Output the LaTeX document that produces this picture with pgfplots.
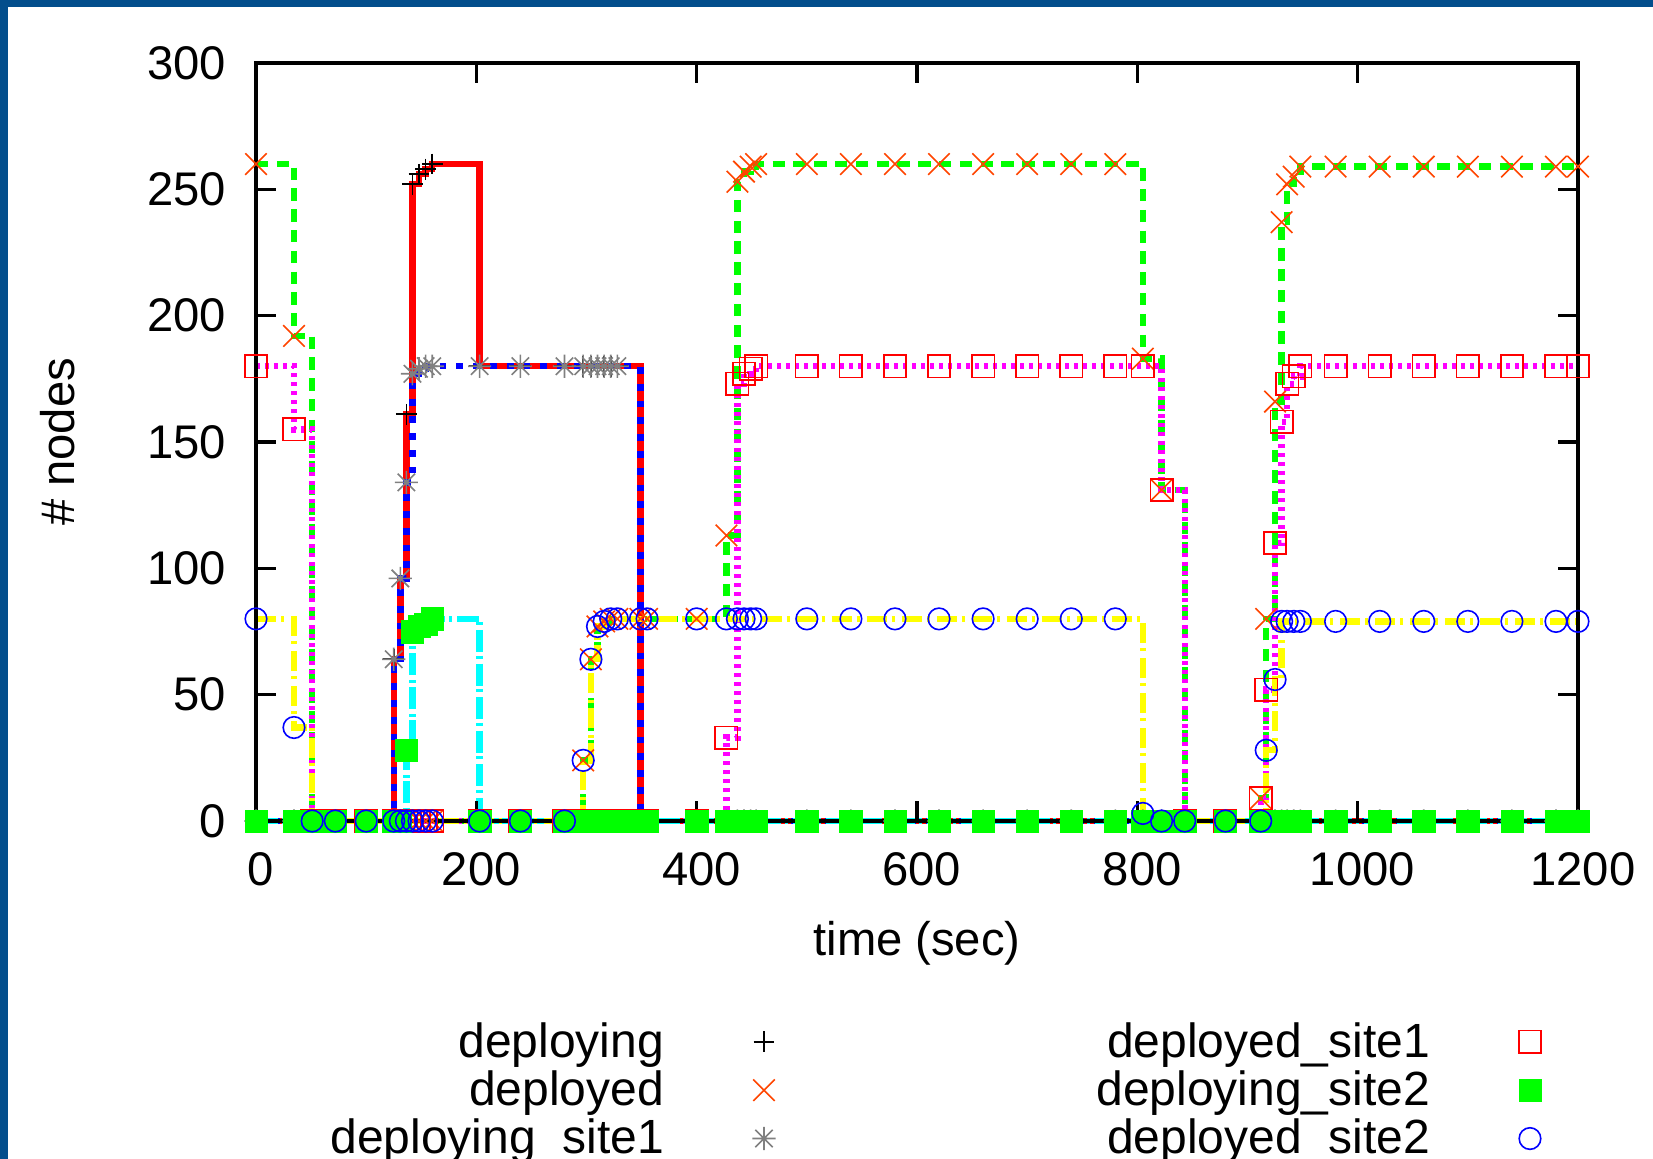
\documentclass[border=0pt]{standalone}
\usepackage{fontspec}
\setmainfont{Liberation Sans}
\usepackage{pgfplots}
\usepackage{pgfplotstable}
\pgfplotsset{compat=1.18}

\definecolor{bordblue}{RGB}{3,78,140}
\definecolor{xorange}{RGB}{255,69,0}
\definecolor{stargray}{RGB}{128,128,128}
\definecolor{gpred}{RGB}{255,0,0}
\definecolor{gpgreen}{RGB}{0,255,0}
\definecolor{gpblue}{RGB}{0,0,255}
\definecolor{gpmagenta}{RGB}{255,0,255}
\definecolor{gpcyan}{RGB}{0,255,255}
\definecolor{gpyellow}{RGB}{255,255,0}

\pgfdeclareplotmark{starx}{%
  \pgfpathmoveto{\pgfqpoint{-\pgfplotmarksize}{0pt}}%
  \pgfpathlineto{\pgfqpoint{\pgfplotmarksize}{0pt}}%
  \pgfpathmoveto{\pgfqpoint{0pt}{-\pgfplotmarksize}}%
  \pgfpathlineto{\pgfqpoint{0pt}{\pgfplotmarksize}}%
  \pgfpathmoveto{\pgfqpoint{-.75\pgfplotmarksize}{-.75\pgfplotmarksize}}%
  \pgfpathlineto{\pgfqpoint{.75\pgfplotmarksize}{.75\pgfplotmarksize}}%
  \pgfpathmoveto{\pgfqpoint{-.75\pgfplotmarksize}{.75\pgfplotmarksize}}%
  \pgfpathlineto{\pgfqpoint{.75\pgfplotmarksize}{-.75\pgfplotmarksize}}%
  \pgfusepathqstroke}

\newcommand{\legtext}[1]{\makebox[84pt][r]{\rule[-3.3pt]{0pt}{12.1pt}#1}}

% t, deploying, deployed, deploying_site1, deployed_site1, deploying_site2, deployed_site2
\pgfplotstableread{
t      dep  dpd  depa dpda depb dpdb
0      0    260  0    180  0    80
34.5   0    192  0    155  0    37
51     0    0    0    0    0    0
72     0    0    0    0    0    0
100    0    0    0    0    0    0
125    64   0    64   0    0    0
131    96   0    96   0    0    0
136.5  161  0    134  0    28   0
142    252  0    177  0    75   0
148    256  0    179  0    77   0
154    258  0    180  0    78   0
160    260  0    180  0    80   0
203    180  0    180  0    0    0
240    180  0    180  0    0    0
280    180  0    180  0    0    0
297    180  24   180  0    0    24
304    180  64   180  0    0    64
310    180  77   180  0    0    77
316    180  79   180  0    0    79
322    180  80   180  0    0    80
328    180  80   180  0    0    80
349    0    80   0    0    0    80
355    0    80   0    0    0    80
400    0    80   0    0    0    80
427    0    113  0    33   0    80
437    0    253  0    173  0    80
443    0    257  0    177  0    80
449    0    259  0    179  0    80
454    0    260  0    180  0    80
500    0    260  0    180  0    80
540    0    260  0    180  0    80
580    0    260  0    180  0    80
620    0    260  0    180  0    80
660    0    260  0    180  0    80
700    0    260  0    180  0    80
740    0    260  0    180  0    80
780    0    260  0    180  0    80
805    0    183  0    180  0    3
822    0    131  0    131  0    0
843    0    0    0    0    0    0
880    0    0    0    0    0    0
912    0    9    0    9    0    0
917    0    80   0    52   0    28
925    0    166  0    110  0    56
931    0    237  0    158  0    79
936    0    252  0    173  0    79
942    0    255  0    176  0    79
948    0    259  0    180  0    79
980    0    259  0    180  0    79
1020   0    259  0    180  0    79
1060   0    259  0    180  0    79
1100   0    259  0    180  0    79
1140   0    259  0    180  0    79
1180   0    259  0    180  0    79
1200   0    259  0    180  0    79
}\datatable

\begin{document}
\begin{tikzpicture}
\path[use as bounding box] (0pt,0pt) rectangle (413.25pt,289.75pt);
\fill[white] (0pt,0pt) rectangle (413.25pt,289.75pt);
\fill[bordblue] (0pt,0pt) rectangle (2pt,289.75pt);
\fill[bordblue] (0pt,288pt) rectangle (413.25pt,289.75pt);
\begin{axis}[
  at={(64pt,84.5pt)}, anchor=south west,
  scale only axis, width=330.5pt, height=189.5pt,
  xmin=0, xmax=1200, ymin=0, ymax=300,
  xtick={0,200,400,600,800,1000,1200},
  ytick={0,50,100,150,200,250,300},
  minor tick num=0,
  tick align=inside, major tick length=5pt,
  axis line style={line width=0.85pt, black},
  tick style={line width=0.85pt, black},
  clip=false, axis on top,
  /pgf/number format/assume math mode=true,
  /pgf/number format/1000 sep={},
  ticklabel style={font=\fontsize{11.8}{14}\selectfont},
  yticklabel style={xshift=-4pt},
  xticklabel style={yshift=-4.4pt, xshift=1.2pt},
  xlabel={time (sec)}, ylabel={\# nodes},
  label style={font=\fontsize{11.8}{14}\selectfont},
  xlabel style={at={(axis description cs:0.5,-0.161)}, anchor=center},
  ylabel style={at={(axis description cs:-0.1498,0.5)}, anchor=center, rotate=0},
  const plot,
  legend image code/.code={\path[draw=none,fill=none] (0pt,0.2pt) -- (10pt,0.2pt); \draw[#1] plot coordinates {(5pt,0.2pt)};},
  legend columns=2,
  legend plot pos=right,
  legend cell align=right,
  legend style={at={(0.05446,-0.2651)}, anchor=north west,
    draw=none, fill=none, inner sep=0pt, outer sep=0pt,
    nodes={inner sep=0pt, outer sep=0pt},
    font=\fontsize{12}{12.1}\selectfont,
    column sep=20pt, row sep=1.8pt,
    /tikz/every even column/.append style={column sep=77.5pt}},
]
% lines
\addplot[forget plot, gpred, line width=1.6pt] table[x=t,y=dep] {\datatable};
\addplot[forget plot, gpgreen, line width=1.6pt, dash pattern=on 3.1pt off 2.1pt] table[x=t,y=dpd] {\datatable};
\addplot[forget plot, gpblue, line width=1.6pt, dash pattern=on 1.7pt off 2.5pt] table[x=t,y=depa] {\datatable};
\addplot[forget plot, gpmagenta, line width=1.6pt, dash pattern=on 1pt off 1.25pt] table[x=t,y=dpda] {\datatable};
\addplot[forget plot, gpcyan, line width=1.6pt, dash pattern=on 5.5pt off 0.9pt on 0.75pt off 1.25pt] table[x=t,y=depb] {\datatable};
\addplot[forget plot, gpyellow, line width=1.6pt, dash pattern=on 5pt off 1.25pt on 0.75pt off 1.75pt] table[x=t,y=dpdb] {\datatable};
% marks
\addplot[forget plot, only marks, mark=+, black, mark size=2.6pt, line width=0.4pt] table[x=t,y=dep] {\datatable};
\addplot[forget plot, only marks, mark=x, xorange, mark size=3.8pt, line width=0.4pt] table[x=t,y=dpd] {\datatable};
\addplot[forget plot, only marks, mark=starx, stargray, mark size=2.9pt, line width=0.4pt] table[x=t,y=depa] {\datatable};
\addplot[forget plot, only marks, mark=square, gpred, mark size=2.8pt, line width=0.4pt] table[x=t,y=dpda] {\datatable};
\addplot[forget plot, only marks, mark=square*, gpgreen, mark size=2.8pt, line width=0.1pt] table[x=t,y=depb] {\datatable};
\addplot[forget plot, only marks, mark=o, gpblue, mark size=2.7pt, line width=0.4pt] table[x=t,y=dpdb] {\datatable};
% legend (row-wise order for two columns)
\addlegendimage{mark=+, black, mark size=2.6pt, line width=0.4pt}
\addlegendentry{\legtext{deploying}}
\addlegendimage{mark=square, gpred, mark size=2.8pt, line width=0.4pt}
\addlegendentry{\legtext{deployed\_site1}}
\addlegendimage{mark=x, xorange, mark size=3.8pt, line width=0.4pt}
\addlegendentry{\legtext{deployed}}
\addlegendimage{mark=square*, gpgreen, mark size=2.8pt, line width=0.1pt}
\addlegendentry{\legtext{deploying\_site2}}
\addlegendimage{mark=starx, stargray, mark size=2.9pt, line width=0.4pt}
\addlegendentry{\legtext{deploying\_site1}}
\addlegendimage{mark=o, gpblue, mark size=2.7pt, line width=0.4pt}
\addlegendentry{\legtext{deployed\_site2}}
\end{axis}
\end{tikzpicture}
\end{document}
